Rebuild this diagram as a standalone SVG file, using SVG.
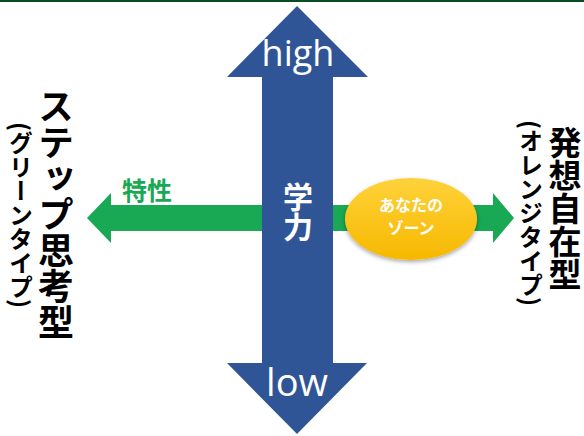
<svg xmlns="http://www.w3.org/2000/svg" width="584" height="436" viewBox="0 0 584 436">
<style>
.jp{font-family:"Noto Sans CJK JP","Noto Sans",sans-serif;font-weight:bold}
.v{writing-mode:vertical-rl}
.lat{font-family:"Open Sans","Liberation Sans",sans-serif;fill:#fff}
</style>
<defs>
<linearGradient id="yg" x1="0" y1="0" x2="0" y2="1">
<stop offset="0" stop-color="#ffd23a"/>
<stop offset="1" stop-color="#f6b800"/>
</linearGradient>
<filter id="sh" x="-20%" y="-20%" width="140%" height="150%">
<feDropShadow dx="0" dy="2" stdDeviation="2" flood-color="#000" flood-opacity="0.35"/>
</filter>
</defs>
<rect width="584" height="436" fill="#fff"/>
<rect x="0" y="0" width="584" height="2" fill="#0c4a26"/>
<g id="connectors">
<polygon points="262,205 111,205 111,193 87,218 111,243 111,231 262,231" fill="#19a853"/>
<polygon points="333,205 493,205 493,193 514,218 493,243 493,231 333,231" fill="#19a853"/>
</g>
<g id="axis">
<polygon points="297,6 368,77 333,77 333,363 367,363 297,434 227,363 262,363 262,77 227,77" fill="#2f5597"/>
<text class="lat" x="298" y="66" font-size="36" text-anchor="middle">high</text>
<text class="lat" x="297" y="396" font-size="38" text-anchor="middle">low</text>
<text class="jp v" x="298" y="182" font-size="30" fill="#fff">学力</text>
</g>
<g id="tokusei">
<text class="jp" x="147" y="200" font-size="25" fill="#19a853" text-anchor="middle">特性</text>
</g>
<g id="zone">
<ellipse cx="411" cy="219" rx="66" ry="41" fill="url(#yg)" filter="url(#sh)"/>
<text class="jp" x="411" y="211" font-size="16" fill="#fff" text-anchor="middle">あなたの</text>
<text class="jp" x="411" y="234" font-size="16" fill="#fff" text-anchor="middle">ゾーン</text>
</g>
<g id="left">
<text class="jp v" x="56" y="88" font-size="36" fill="#000">ステップ思考型</text>
<text class="jp v" x="21" y="122" font-size="24" fill="#000">(グリーンタイプ)</text>
</g>
<g id="right">
<text class="jp" font-size="33" fill="#000" text-anchor="middle"><tspan x="565" y="155">発</tspan><tspan x="565" dy="33">想</tspan><tspan x="565" dy="33">自</tspan><tspan x="565" dy="33">在</tspan><tspan x="565" dy="33">型</tspan></text>
<text class="jp v" x="531" y="120" font-size="24" fill="#000">(オレンジタイプ)</text>
</g>
</svg>
